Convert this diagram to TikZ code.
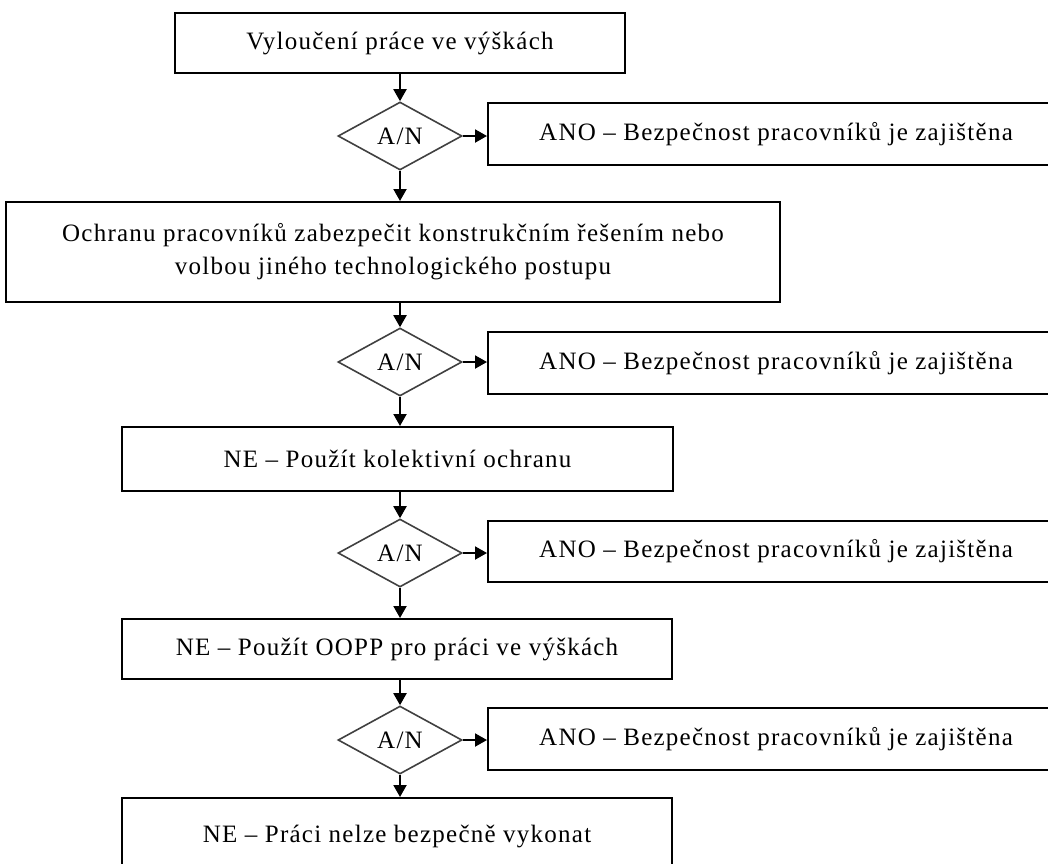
\documentclass[tikz,border=0pt]{standalone}
\usepackage{fontspec}
\setmainfont{Liberation Serif}[LetterSpace=5]
\usetikzlibrary{shapes.geometric,arrows.meta}
\tikzset{
  box/.style={draw=black, line width=2pt, rectangle, inner sep=0pt, align=center, font=\fontsize{25}{33}\selectfont},
  dec/.style={draw=black!75, line width=1.6pt, diamond, inner sep=0pt, minimum width=124pt, minimum height=68pt, font=\fontsize{25}{28}\selectfont},
  arr/.style={line width=2pt, -{Triangle[width=13pt,length=12pt]}},
}
\begin{document}
\begin{tikzpicture}[x=1pt,y=-1pt]
\useasboundingbox (0,0) rectangle (1048,863);
\node[box, minimum width=450pt, minimum height=60pt] (b1) at (400,43) {Vyloučení práce ve výškách};
\node[dec] (d1) at (400,136) {A/N};
\node[box, minimum width=576pt, minimum height=62pt] (r1) at (776,134) {ANO -- Bezpečnost pracovníků je zajištěna};
\node[box, minimum width=774pt, minimum height=100pt] (b2) at (393,252) {Ochranu pracovníků zabezpečit konstrukčním řešením nebo\\ volbou jiného technologického postupu};
\node[dec] (d2) at (400,362) {A/N};
\node[box, minimum width=576pt, minimum height=62pt] (r2) at (776,363) {ANO -- Bezpečnost pracovníků je zajištěna};
\node[box, minimum width=551pt, minimum height=64pt] (b3) at (397.5,459) {NE -- Použít kolektivní ochranu};
\node[dec] (d3) at (400,553) {A/N};
\node[box, minimum width=576pt, minimum height=61pt] (r3) at (776,551.5) {ANO -- Bezpečnost pracovníků je zajištěna};
\node[box, minimum width=550pt, minimum height=60pt] (b4) at (397,649) {NE -- Použít OOPP pro práci ve výškách};
\node[dec] (d4) at (400,740) {A/N};
\node[box, minimum width=576pt, minimum height=62pt] (r4) at (776,739) {ANO -- Bezpečnost pracovníků je zajištěna};
\node[box, minimum width=550pt, minimum height=84pt] (b5) at (397,840) {\raisebox{12pt}{NE -- Práci nelze bezpečně vykonat}};
\draw[arr] (b1.south -| d1) -- (d1.north);
\draw[arr] (d1.east) -- (r1.west |- d1.east);
\draw[arr] (d1.south) -- (b2.north -| d1);
\draw[arr] (b2.south -| d2) -- (d2.north);
\draw[arr] (d2.east) -- (r2.west |- d2.east);
\draw[arr] (d2.south) -- (b3.north -| d2);
\draw[arr] (b3.south -| d3) -- (d3.north);
\draw[arr] (d3.east) -- (r3.west |- d3.east);
\draw[arr] (d3.south) -- (b4.north -| d3);
\draw[arr] (b4.south -| d4) -- (d4.north);
\draw[arr] (d4.east) -- (r4.west |- d4.east);
\draw[arr] (d4.south) -- (b5.north -| d4);
\end{tikzpicture}
\end{document}
